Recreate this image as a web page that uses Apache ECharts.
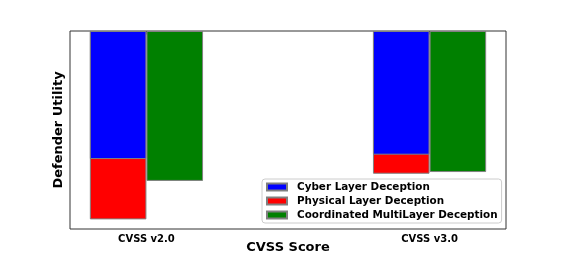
<!DOCTYPE html>
<html>
<head>
<meta charset="utf-8">
<script src="https://cdn.jsdelivr.net/npm/echarts@6/dist/echarts.min.js"></script>
<style>html,body{margin:0;padding:0;background:#fff}#c{width:562px;height:262px}</style>
</head>
<body>
<div id="c"></div>
<script>
var categories = ['CVSS v2.0', 'CVSS v3.0'];
var categoryPositions = [0, 1];
var cyberValues = [-6.79, -6.56];
var physicalValues = [-9.99, -7.57];
var coordinatedValues = [-7.95, -7.48];
var seriesNames = ['Cyber Layer Deception', 'Physical Layer Deception', 'Coordinated MultiLayer Deception'];

var barOffset = 0.1;
function pts(vals, off) {
  return vals.map(function (v, i) { return [categoryPositions[i] + off, v]; });
}
var font = 'DejaVu Sans';
var chart = echarts.init(document.getElementById('c'), null, {renderer: 'canvas'});
var barStyle = function (c) { return {color: c, borderColor: '#808080', borderWidth: 1}; };
chart.setOption({
  animation: false,
  grid: {left: 70, right: 56, top: 31, bottom: 33, show: true, borderColor: '#333', borderWidth: 1, backgroundColor: 'transparent'},
  xAxis: {
    type: 'value', min: -0.27, max: 1.27,
    splitLine: {show: false},
    axisLine: {show: false},
    axisTick: {show: true, length: 3.5, lineStyle: {color: '#333'}, customValues: categoryPositions},
    axisLabel: {customValues: categoryPositions, margin: 5, fontFamily: font, fontWeight: 'bold', fontSize: 10, color: '#000',
      formatter: function (v) { var i = categoryPositions.indexOf(Math.round(v)); return i >= 0 ? categories[i] : ''; }},
    name: 'CVSS Score', nameLocation: 'middle', nameGap: 12, nameMoveOverlap: false,
    nameTextStyle: {fontFamily: font, fontWeight: 'bold', fontSize: 13, color: '#000'}
  },
  yAxis: {
    type: 'value', min: -10.5, max: 0,
    splitLine: {show: false}, axisLine: {show: false}, axisTick: {show: false}, axisLabel: {show: false},
    name: 'Defender Utility', nameLocation: 'middle', nameGap: 5, nameMoveOverlap: false,
    nameTextStyle: {fontFamily: font, fontWeight: 'bold', fontSize: 13, color: '#000'}
  },
  legend: {
    data: seriesNames, orient: 'vertical', left: 262, top: 179,
    icon: 'rect', itemWidth: 20, itemHeight: 7, itemGap: 2,
    padding: [2, 4, 2, 4], borderColor: '#ccc', borderWidth: 1, borderRadius: 3,
    backgroundColor: 'rgba(255,255,255,0.8)',
    textStyle: {fontFamily: font, fontWeight: 'bold', fontSize: 10.4, color: '#000', lineHeight: 12, padding: [0, 0, 0, 5]}
  },
  series: [
    {name: seriesNames[0], type: 'bar', data: pts(cyberValues, -barOffset), barWidth: 56.6, barGap: '-100%', z: 4, itemStyle: barStyle('#0000ff')},
    {name: seriesNames[1], type: 'bar', data: pts(physicalValues, -barOffset), barWidth: 56.6, barGap: '-100%', z: 3, itemStyle: barStyle('#ff0000')},
    {name: seriesNames[2], type: 'bar', data: pts(coordinatedValues, barOffset), barWidth: 56.6, barGap: '-100%', z: 3, itemStyle: barStyle('#008000')}
  ]
});
</script>
</body>
</html>
